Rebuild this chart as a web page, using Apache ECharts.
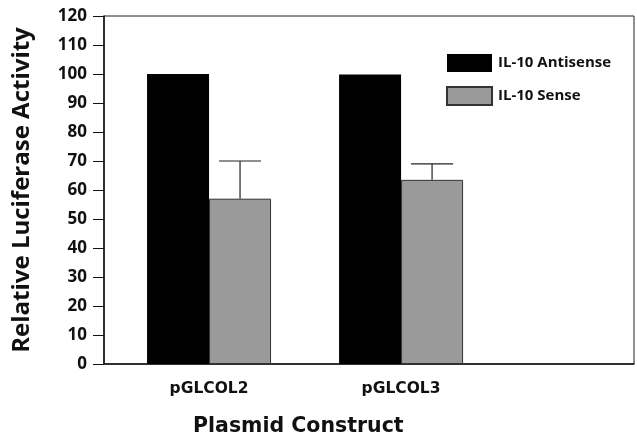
<!DOCTYPE html>
<html>
<head>
<meta charset="utf-8">
<script src="https://cdn.jsdelivr.net/npm/echarts@6/dist/echarts.min.js"></script>
<style>html,body{margin:0;padding:0;background:#fff}#c{width:637px;height:437px}</style>
</head>
<body>
<div id="c"></div>
<script>
var categories = ['pGLCOL2', 'pGLCOL3'];
var antisense = [100, 99.8];
var sense = [57, 63.5];
var senseErr = [13, 5.5];
var yTicks = [0, 10, 20, 30, 40, 50, 60, 70, 80, 90, 100, 110, 120];

var FONT = '"Open Sans", "DejaVu Sans", sans-serif';
var WIDE = '"DejaVu Sans", sans-serif';
var BW = 62;
var chart = echarts.init(document.getElementById('c'));
var xs = categories.map(function (c, i) { return i + 1; });

chart.setOption({
  animation: false,
  backgroundColor: '#fff',
  grid: { left: 104, right: 3, top: 16, bottom: 73, show: true, borderColor: '#222', borderWidth: 1, backgroundColor: 'transparent' },
  legend: {
    data: ['IL-10 Antisense', 'IL-10 Sense'],
    orient: 'vertical', left: 441, top: 49,
    icon: 'rect',
    itemWidth: 45, itemHeight: 18, itemGap: 14,
    textStyle: { fontFamily: FONT, fontWeight: 'bold', fontSize: 15, color: '#111', padding: [0, 0, 0, 1] }
  },
  xAxis: {
    type: 'value', min: 0.453, max: 3.213,
    splitLine: { show: false },
    axisLine: { lineStyle: { color: '#111', width: 1.5 } },
    axisTick: { show: false },
    axisLabel: {
      customValues: xs,
      formatter: function (v) { return categories[Math.round(v) - 1] || ''; },
      fontFamily: WIDE, fontWeight: 'bold', fontSize: 15.5, color: '#111', margin: 17
    }
  },
  yAxis: {
    type: 'value', min: 0, max: 120, interval: 10,
    name: 'Relative Luciferase Activity', nameLocation: 'middle', nameRotate: 90, nameGap: 70,
    nameTextStyle: { fontFamily: FONT, fontWeight: 'bold', fontSize: 24, color: '#111' },
    splitLine: { show: false },
    axisLine: { show: true, lineStyle: { color: '#111', width: 1.5 } },
    axisTick: { show: true, length: 11, lineStyle: { color: '#111', width: 1 } },
    axisLabel: {
      customValues: yTicks,
      fontFamily: FONT, fontWeight: 'bold', fontSize: 17, color: '#111', margin: 17
    }
  },
  graphic: [{
    type: 'text', left: 193, top: 416,
    style: { text: 'Plasmid Construct', font: 'bold 20.5px ' + WIDE, fill: '#111' }
  }],
  series: [
    {
      name: 'IL-10 Antisense', type: 'bar', barWidth: BW, barGap: '0%',
      itemStyle: { color: '#000' },
      data: xs.map(function (x, i) { return [x, antisense[i]]; })
    },
    {
      name: 'IL-10 Sense', type: 'bar', barWidth: BW, barGap: '0%',
      itemStyle: { color: '#9a9a9a', borderColor: '#333', borderWidth: 1 },
      data: xs.map(function (x, i) { return [x, sense[i]]; })
    },
    {
      name: 'err', type: 'custom',
      data: xs.map(function (x, i) { return [x, sense[i], sense[i] + senseErr[i]]; }),
      renderItem: function (params, api) {
        var lo = api.coord([api.value(0), api.value(1)]);
        var hi = api.coord([api.value(0), api.value(2)]);
        var cx = lo[0] + BW / 2;
        return {
          type: 'group',
          children: [
            { type: 'line', shape: { x1: cx, y1: lo[1], x2: cx, y2: hi[1] }, style: { stroke: '#222', lineWidth: 1.2 } },
            { type: 'line', shape: { x1: cx - 21, y1: hi[1], x2: cx + 21, y2: hi[1] }, style: { stroke: '#222', lineWidth: 1.2 } }
          ]
        };
      },
      z: 5
    }
  ]
});
</script>
</body>
</html>
